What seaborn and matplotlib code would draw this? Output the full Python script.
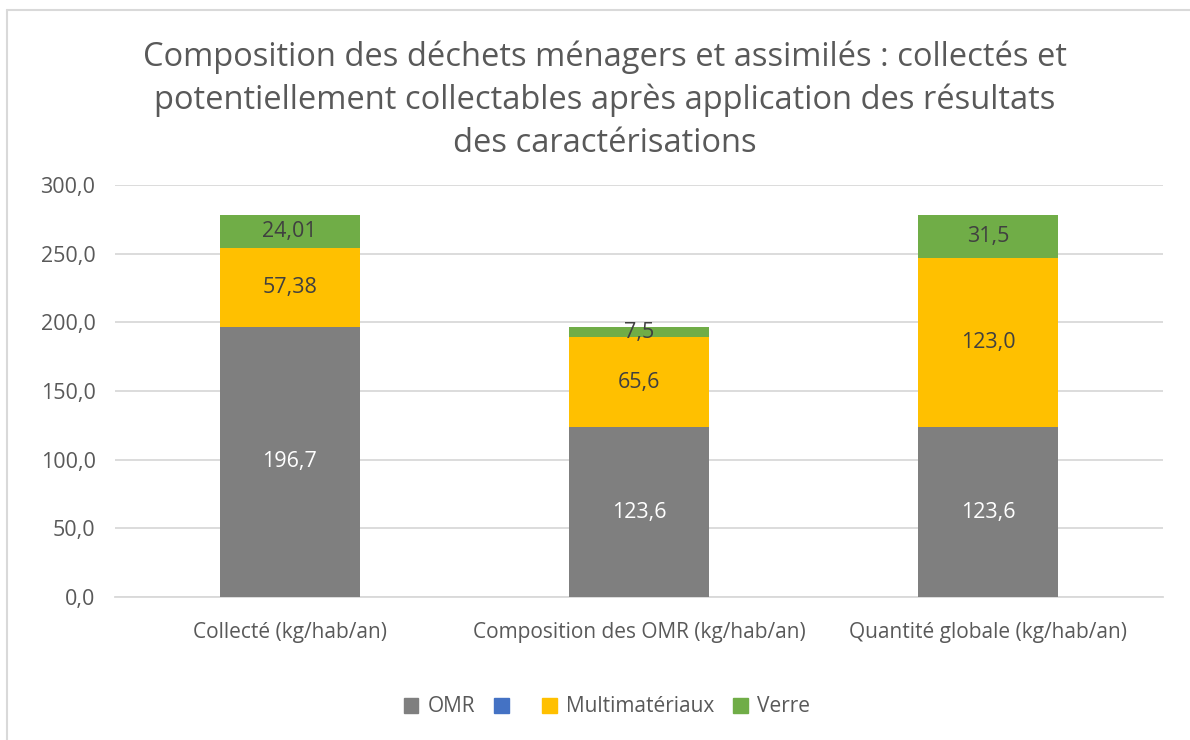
import matplotlib
matplotlib.use("Agg")
import matplotlib.pyplot as plt
import matplotlib.patches as mpatches
from matplotlib.lines import Line2D
import numpy as np
import pandas as pd
import seaborn as sns

# Data
categories = ["Collecté (kg/hab/an)", "Composition des OMR (kg/hab/an)", "Quantité globale (kg/hab/an)"]
omr = [196.7, 123.6, 123.6]
blue_series = [0.0, 0.0, 0.0]
multimateriaux = [57.38, 65.6, 123.0]
verre = [24.01, 7.5, 31.5]
y_ticks = [0, 50, 100, 150, 200, 250, 300]

c_omr = "#7f7f7f"
c_blue = "#4472c4"
c_multi = "#ffc000"
c_verre = "#70ad47"
text_col = "#595959"

sns.set_theme(style="white")
plt.rcParams["font.family"] = ["Open Sans", "DejaVu Sans"]

df = pd.DataFrame({"cat": categories, "omr": omr, "blue": blue_series,
                   "multi": multimateriaux, "verre": verre})
df["lvl1"] = df["omr"] + df["blue"]
df["lvl2"] = df["lvl1"] + df["multi"]
df["lvl3"] = df["lvl2"] + df["verre"]

fig = plt.figure(figsize=(11.9, 7.4), dpi=100)
ax = fig.add_axes([115 / 1190, 1 - 597 / 740, (1163 - 115) / 1190, (597 - 185) / 740])

# stacked by overdrawing cumulative totals
for col, color in [("lvl3", c_verre), ("lvl2", c_multi), ("lvl1", c_blue), ("omr", c_omr)]:
    sns.barplot(data=df, x="cat", y=col, color=color, width=0.4, linewidth=0,
                saturation=1, ax=ax, zorder=3)

def fmt(v):
    return str(v).replace(".", ",")

for i, row in df.iterrows():
    ax.text(i, row["omr"] / 2, fmt(row["omr"]), ha="center", va="center",
            color="white", fontsize=15.5, zorder=5)
    ax.text(i, row["lvl1"] + row["multi"] / 2, fmt(row["multi"]), ha="center", va="center",
            color="#404040", fontsize=15.5, zorder=5)
    ax.text(i, row["lvl2"] + row["verre"] / 2, fmt(row["verre"]), ha="center", va="center",
            color="#404040", fontsize=15.5, zorder=5)

ax.set_xlim(-0.5, 2.5)
ax.set_ylim(0, 300)
ax.set_yticks(y_ticks)
ax.set_yticklabels([f"{t},0" for t in y_ticks], color=text_col, fontsize=15.5)
ax.tick_params(axis="x", colors=text_col, labelsize=15, length=0, pad=18)
ax.tick_params(axis="y", length=0, pad=14)
ax.set_xlabel("")
ax.set_ylabel("")
ax.yaxis.grid(True, color="#d9d9d9", linewidth=1.3, zorder=0)
ax.xaxis.grid(False)
for s in ["top", "right", "left"]:
    ax.spines[s].set_visible(False)
ax.spines["bottom"].set_color("#d9d9d9")
ax.spines["bottom"].set_linewidth(1.3)
ax.set_axisbelow(True)

fig.text(0.508, 1 - 100 / 740,
         "Composition des déchets ménagers et assimilés : collectés et\n"
         "potentiellement collectables après application des résultats\n"
         "des caractérisations",
         ha="center", va="center", fontsize=23.5, color=text_col, linespacing=1.38)

handles = [mpatches.Patch(color=c_omr), mpatches.Patch(color=c_blue),
           mpatches.Patch(color=c_multi), mpatches.Patch(color=c_verre)]
labels = ["OMR", " ", "Multimatériaux", "Verre"]
fig.legend(handles, labels, loc="center", bbox_to_anchor=(0.51, 1 - 707 / 740), ncol=4,
           frameon=False, fontsize=15, labelcolor=text_col, handlelength=0.7,
           handleheight=0.7, handletextpad=0.45, columnspacing=0.9)

# chart frame
fig.add_artist(Line2D([7 / 1190, 1], [1 - 9.5 / 740] * 2, color="#d9d9d9", linewidth=1.5))
fig.add_artist(Line2D([7 / 1190] * 2, [0, 1 - 9.5 / 740], color="#d9d9d9", linewidth=1.5))

fig.savefig("out.png", dpi=100)
